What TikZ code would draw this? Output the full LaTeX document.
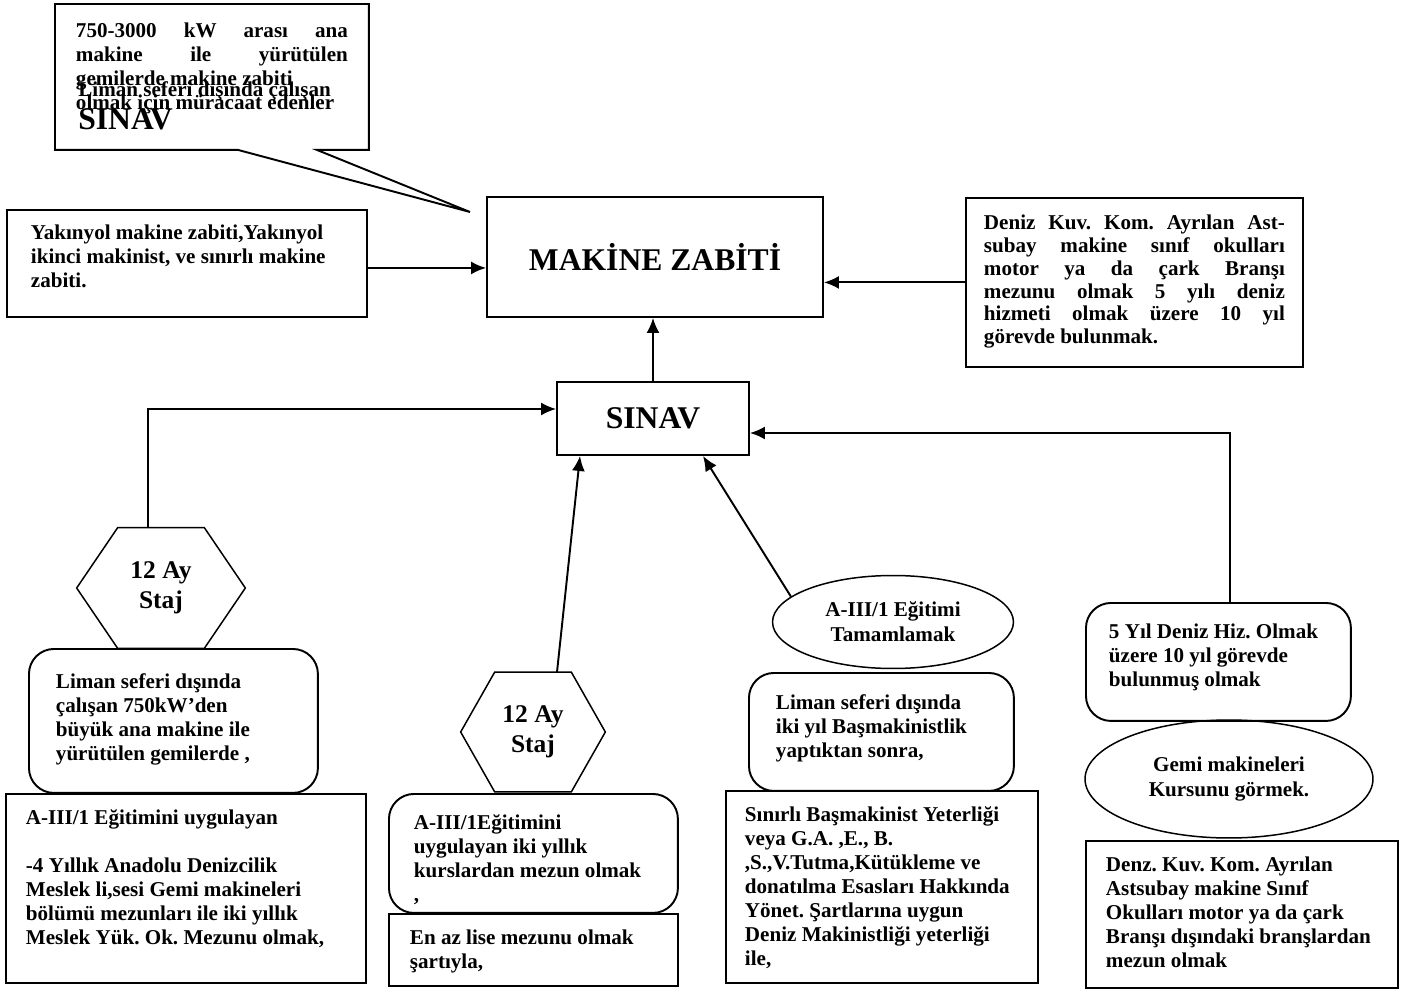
\documentclass[tikz,border=0pt]{standalone}
\usepackage{fontspec}
\setmainfont{Liberation Serif}
\usetikzlibrary{positioning,calc,arrows.meta,shapes.geometric}
\hyphenpenalty=10000
\frenchspacing
\newcommand{\boxtxt}[3]{\parbox[t][#2][t]{#1}{#3}}

\begin{document}
\begin{tikzpicture}[x=0.02cm, y=-0.02cm,
  txt/.style={font=\bfseries\fontsize{12}{13.6}\selectfont, inner sep=0pt},
  big/.style={font=\bfseries\fontsize{18}{21}\selectfont},
  frame/.style={txt, draw, line width=1.1pt, anchor=north west},
  rframe/.style={frame, rounded corners=0.5cm},
  oval/.style={txt, ellipse, draw, line width=0.85pt, align=center,
    font=\bfseries\fontsize{12}{14.2}\selectfont},
  hexa/.style={txt, align=center, font=\bfseries\fontsize{14.5}{17}\selectfont},
  arr/.style={-{Latex[length=0.3cm,width=0.26cm]}, line width=1.1pt}]
    \useasboundingbox (0,0) rectangle (1411,990);
    %
    \node[frame, draw=none, inner xsep=0.4cm, inner ysep=0.36cm] (basvuru) at (55,4)
      {\boxtxt{5.44cm}{2.16cm}{750-3000 kW arası ana\linebreak makine ile yürütülen\linebreak gemilerde makine zabiti\\ olmak için müracaat edenler}};
    \coordinate (ucu) at (470,212);
    \draw[line width=1.1pt] (basvuru.north west) -- (basvuru.north east) -- (basvuru.south east)
      -- ([xshift=-1.04cm]basvuru.south east) -- (ucu) -- ([xshift=3.66cm]basvuru.south west)
      -- (basvuru.south west) -- cycle;
    \node[txt, anchor=base west] (liman0) at (78,97) {Liman seferi dışında çalışan};
    \node[txt, big, anchor=base west] (sinav0) at (78,130) {SINAV};
    %
    \node[frame, inner xsep=0.48cm, inner ysep=0.3cm] (yakin) at (6,209)
      {\boxtxt{6.24cm}{1.54cm}{\raggedright Yakınyol makine zabiti,Yakınyol\\ ikinci makinist, ve sınırlı makine\\ zabiti.}};
    \node[draw, line width=1.1pt, big, minimum width=6.72cm, minimum height=2.4cm] (makine) at (655,257) {MAKİNE ZABİTİ};
    \node[frame, inner xsep=0.36cm, inner ysep=0.34cm, font=\bfseries\fontsize{12}{13}\selectfont] (deniz) at (965,197)
      {\boxtxt{6.02cm}{2.7cm}{Deniz Kuv. Kom. Ayrılan Ast-\linebreak subay makine sınıf okulları\linebreak motor ya da çark Branşı\linebreak mezunu olmak 5 yılı deniz\linebreak hizmeti olmak üzere 10 yıl\linebreak görevde bulunmak.}};
    \node[draw, line width=1.1pt, big, minimum width=3.84cm, minimum height=1.46cm] (sinav) at (653,418.5) {SINAV};
    %
    \node[hexa, minimum width=3.36cm, minimum height=2.4cm] (staj1) at (161,588) {12 Ay\\Staj};
    \node[hexa, minimum width=2.88cm, minimum height=2.38cm] (staj2) at (533,732) {12 Ay\\Staj};
    \foreach \h/\d in {staj1/0.82cm, staj2/0.68cm}
      \draw[line width=0.85pt] (\h.west) -- ([xshift=\d]\h.north west) -- ([xshift=-\d]\h.north east)
        -- (\h.east) -- ([xshift=-\d]\h.south east) -- ([xshift=\d]\h.south west) -- cycle;
    %
    \node[rframe, inner xsep=0.54cm, inner ysep=0.5cm] (liman1) at (28,648)
      {\boxtxt{4.7cm}{1.88cm}{\raggedright Liman seferi dışında\\ çalışan 750kW’den\\ büyük ana makine ile\\ yürütülen gemilerde ,}};
    \node[frame, inner xsep=0.4cm, inner ysep=0.32cm] (anadolu) at (5,793)
      {\boxtxt{6.4cm}{3.14cm}{\raggedright A-III/1 Eğitimini uygulayan\\[13.6pt] -4 Yıllık Anadolu Denizcilik\\ Meslek li,sesi Gemi makineleri\\ bölümü mezunları ile iki yıllık\\ Meslek Yük. Ok. Mezunu olmak,}};
    \node[rframe, inner xsep=0.5cm, inner ysep=0.42cm] (kurs) at (388,793)
      {\boxtxt{4.78cm}{1.54cm}{\raggedright A-III/1Eğitimini\\ uygulayan iki yıllık\\ kurslardan mezun olmak\\ ,}};
    \node[frame, inner xsep=0.42cm, inner ysep=0.32cm] (lise) at (388,913)
      {\boxtxt{4.94cm}{0.8cm}{\raggedright En az lise mezunu olmak\\ şartıyla,}};
    %
    \node[oval, minimum width=4.82cm, minimum height=1.86cm] (tamam) at (893,622) {A-III/1 Eğitimi\\Tamamlamak};
    \node[rframe, inner xsep=0.54cm, inner ysep=0.44cm] (basmak) at (748,672)
      {\boxtxt{4.22cm}{1.48cm}{\raggedright Liman seferi dışında\\ iki yıl Başmakinistlik\\ yaptıktan sonra,}};
    \node[frame, inner xsep=0.38cm, inner ysep=0.32cm] (yeterlik) at (725,790)
      {\boxtxt{5.48cm}{3.2cm}{\raggedright Sınırlı Başmakinist Yeterliği\\ veya G.A. ,E., B.\\ ,S.,V.Tutma,Kütükleme ve\\ donatılma Esasları Hakkında\\ Yönet. Şartlarına uygun\\ Deniz Makinistliği yeterliği\\ ile,}};
    %
    \node[rframe, inner xsep=0.46cm, inner ysep=0.42cm] (hizmet) at (1085,602)
      {\boxtxt{4.38cm}{1.52cm}{\raggedright 5 Yıl Deniz Hiz. Olmak\\ üzere 10 yıl görevde\\ bulunmuş olmak}};
    \node[oval, minimum width=5.76cm, minimum height=2.36cm] (gemi) at (1229,779) {Gemi makineleri\\Kursunu görmek.};
    \node[frame, inner xsep=0.4cm, inner ysep=0.32cm] (astsubay) at (1085,840)
      {\boxtxt{5.44cm}{2.3cm}{\raggedright Denz. Kuv. Kom. Ayrılan\\ Astsubay makine Sınıf\\ Okulları motor ya da çark\\ Branşı dışındaki branşlardan\\ mezun olmak}};
    %
    \draw[arr] ([yshift=-0.09cm]yakin.east) -- ([yshift=-0.09cm]yakin.east -| makine.west);
    \draw[arr] (deniz.west) -- (deniz.west -| makine.east);
    \draw[arr] (sinav.north) -- (sinav.north |- makine.south);
    \draw[arr] ([xshift=-0.26cm]staj1.north) |- ([yshift=0.19cm]sinav.west);
    \draw[arr] ([xshift=0.48cm]staj2.north) -- ([xshift=-1.46cm]sinav.south);
    \draw[arr] (tamam.166) -- ([xshift=1cm]sinav.south);
    \draw[arr] ([xshift=0.23cm]hizmet.north) |- ([yshift=-0.29cm]sinav.east);
\end{tikzpicture}
\end{document}
